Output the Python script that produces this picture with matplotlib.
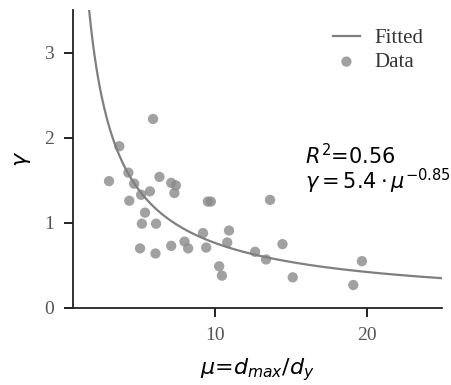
import numpy as np
import matplotlib.pyplot as plt

# data
mu = [2.98, 3.66, 4.26, 4.64, 4.32, 5.10, 5.68, 5.36, 5.15, 6.09,
      5.03, 6.05, 5.89, 6.31, 7.09, 7.40, 7.30, 7.09, 7.97, 8.21,
      9.19, 9.40, 9.51, 9.71, 10.91, 10.79, 10.26, 10.44, 12.63, 13.36,
      13.62, 14.44, 15.12, 19.12, 19.69]
gamma = [1.49, 1.90, 1.59, 1.46, 1.26, 1.33, 1.37, 1.12, 0.99, 0.99,
         0.70, 0.64, 2.22, 1.54, 1.47, 1.44, 1.35, 0.73, 0.78, 0.70,
         0.88, 0.71, 1.25, 1.25, 0.91, 0.77, 0.49, 0.38, 0.66, 0.57,
         1.27, 0.75, 0.36, 0.27, 0.55]

# fitted power law gamma = a * mu^b
fit_a = 5.4
fit_b = -0.85
r2 = 0.56

fig = plt.figure(figsize=(4.52, 3.85), dpi=100)
ax = fig.add_axes([0.1615, 0.2, 0.817, 0.774])

mu_fit = np.linspace(1.0, 25, 400)
ax.plot(mu_fit, fit_a * mu_fit ** fit_b, color='#7f7f7f', lw=1.6, label='Fitted')
ax.scatter(mu, gamma, s=55, color='#8a8a8a', alpha=0.8, edgecolors='none', label='Data')

ax.set_xlim(0.6, 25)
ax.set_ylim(0, 3.5)
ax.set_xticks([10, 20])
ax.set_yticks([0, 1, 2, 3])

for s in ['top', 'right']:
    ax.spines[s].set_visible(False)
for s in ['left', 'bottom']:
    ax.spines[s].set_linewidth(1.3)
    ax.spines[s].set_color('#222222')
ax.tick_params(direction='out', length=6.5, width=1.4, color='#222222', pad=7,
               labelsize=14, labelcolor='#555555')
for lab in ax.get_xticklabels() + ax.get_yticklabels():
    lab.set_family('Liberation Serif')

ax.set_xlabel(r'$\mu$=$d_{max}/d_y$', fontsize=16, labelpad=9)
ax.set_ylabel(r'$\gamma$', fontsize=16, labelpad=8)

ax.text(15.9, 1.79, r'$R^2$=%.2f' % r2, fontsize=15, va='center', ha='left')
ax.text(15.9, 1.49, r'$\gamma = %.1f \cdot \mu^{%.2f}$' % (fit_a, fit_b),
        fontsize=15, va='center', ha='left')

leg = ax.legend(loc='upper right', bbox_to_anchor=(1.0, 1.0), frameon=False,
                prop={'family': 'Liberation Serif', 'size': 15},
                handlelength=1.3, handletextpad=0.7, labelspacing=0.2)
for t in leg.get_texts():
    t.set_color('#333333')

fig.savefig('out.png', dpi=100)
